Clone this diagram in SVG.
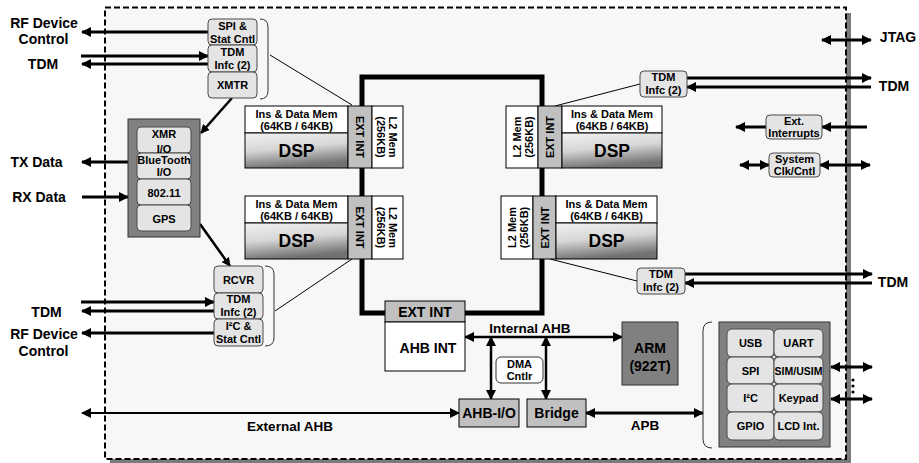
<svg xmlns="http://www.w3.org/2000/svg" width="919" height="463" viewBox="0 0 919 463">
<defs>
<style>
text{font-family:"Liberation Sans",Arial,sans-serif;font-weight:bold;fill:#000;text-anchor:middle}
.t14{font-size:14px}
.t13{font-size:13.5px}
.t11{font-size:11px}
.t10{font-size:11px}
.t17{font-size:17.5px}
.rv{dominant-baseline:central}
.rb{fill:#e4e4e4;stroke:#4a4a4a;stroke-width:1}
.w{fill:#fff;stroke:#000;stroke-width:1}
.g{fill:#c0c0c0;stroke:#000;stroke-width:1}
.dk{fill:#808080;stroke:#333;stroke-width:1}
.thick{stroke:#000;stroke-width:3;fill:none}
.med{stroke:#000;stroke-width:2.5;fill:none}
.ext{stroke:#000;stroke-width:2;fill:none}
.thin{stroke:#000;stroke-width:1;fill:none}
.bus{stroke:#000;stroke-width:5;fill:none}
.brk{stroke:#333;stroke-width:1;fill:none}
</style>
<marker id="ah" viewBox="0 0 10 10" refX="9" refY="5" markerWidth="10" markerHeight="10" markerUnits="userSpaceOnUse" orient="auto-start-reverse"><path d="M0,0L10,5L0,10z" fill="#000"/></marker>
<marker id="ahs" viewBox="0 0 10 10" refX="9" refY="5" markerWidth="9" markerHeight="9" markerUnits="userSpaceOnUse" orient="auto-start-reverse"><path d="M0,0L10,5L0,10z" fill="#000"/></marker>
<linearGradient id="dspg" x1="0" y1="0" x2="0.25" y2="1">
<stop offset="0" stop-color="#f2f2f2"/>
<stop offset="0.5" stop-color="#d6d6d6"/>
<stop offset="1" stop-color="#727272"/>
</linearGradient>
</defs>

<rect x="0" y="0" width="919" height="463" fill="#fff"/>
<g id="chip">
<rect x="110" y="13" width="741" height="450" fill="#7a7a7a"/>
<rect x="105" y="7.5" width="741" height="451.5" fill="#f7f7f7" stroke="#000" stroke-width="2" stroke-dasharray="6 3"/>
</g>

<g id="labels">
<text class="t14" x="44" y="28">RF Device</text>
<text class="t14" x="43.5" y="44">Control</text>
<text class="t14" x="43" y="69">TDM</text>
<text class="t14" x="36.5" y="167">TX Data</text>
<text class="t14" x="39" y="202">RX Data</text>
<text class="t14" x="46.5" y="317">TDM</text>
<text class="t14" x="44" y="339">RF Device</text>
<text class="t14" x="43.5" y="356">Control</text>
<text class="t14" x="898" y="42">JTAG</text>
<text class="t14" x="894" y="91">TDM</text>
<text class="t14" x="893" y="287">TDM</text>
<text class="t13" x="290" y="431">External AHB</text>
<text class="t13" x="530" y="333">Internal AHB</text>
<text class="t13" x="645" y="430">APB</text>
</g>

<g id="connectors">
<path class="thick" d="M208,32H82" marker-end="url(#ah)"/>
<path class="thick" d="M81,56H208" marker-end="url(#ah)"/>
<path class="thick" d="M208,64H82" marker-end="url(#ah)"/>
<path class="thick" d="M128,162H82" marker-end="url(#ah)"/>
<path class="thick" d="M82,197H128" marker-end="url(#ah)"/>
<path class="med" d="M232,98L201,133" stroke-width="1.8" marker-end="url(#ahs)"/>
<path class="med" d="M200,224L230,266" stroke-width="1.8" marker-end="url(#ahs)"/>
<path class="thick" d="M81,302H214" marker-end="url(#ah)"/>
<path class="thick" d="M214,311H82" marker-end="url(#ah)"/>
<path class="thick" d="M214,333H82" marker-end="url(#ah)"/>
<path class="thin" d="M270,55L352,105"/>
<path class="thin" d="M275,311L352,259"/>
<path class="thin" d="M640,84L555,106"/>
<path class="thin" d="M637,281L550,259"/>
<path class="thick" d="M687,78H871" marker-end="url(#ah)"/>
<path class="thick" d="M871,87H687" marker-end="url(#ah)"/>
<path class="thick" d="M685,274H872" marker-end="url(#ah)"/>
<path class="thick" d="M872,283H685" marker-end="url(#ah)"/>
<path class="thick" d="M822,40H871" marker-start="url(#ah)" marker-end="url(#ah)"/>
<path class="thick" d="M867,127H822" marker-end="url(#ah)"/>
<path class="thick" d="M766,127H736" marker-end="url(#ah)"/>
<path class="thick" d="M740,165H769" marker-start="url(#ah)" marker-end="url(#ah)"/>
<path class="thick" d="M820,165H870" marker-start="url(#ah)" marker-end="url(#ah)"/>
<path class="thick" d="M831,367H872" marker-start="url(#ah)" marker-end="url(#ah)"/>
<path class="thick" d="M831,399H872" marker-start="url(#ah)" marker-end="url(#ah)"/>
<path class="thick" d="M586,413H703" marker-start="url(#ah)" marker-end="url(#ah)"/>
<path class="ext" d="M82,413H459" marker-start="url(#ah)" marker-end="url(#ah)"/>
<path class="med" d="M465,337H622" marker-start="url(#ah)" marker-end="url(#ah)"/>
<path class="med" d="M491,337V399" marker-start="url(#ah)" marker-end="url(#ah)"/>
<path class="med" d="M546,337V399" marker-start="url(#ah)" marker-end="url(#ah)"/>
<path class="bus" d="M362,106V77H542V106"/>
<path class="bus" d="M362,168V196"/>
<path class="bus" d="M542,168V196"/>
<path class="bus" d="M362,259V313H385"/>
<path class="bus" d="M465,313H542V259"/>
<circle cx="853" cy="380" r="1.6" fill="#000"/>
<circle cx="853" cy="386" r="1.6" fill="#000"/>
<circle cx="853" cy="392" r="1.6" fill="#000"/>
</g>

<g id="tx-group">
<rect class="rb" x="208" y="19" width="49" height="26" rx="4"/>
<rect class="rb" x="208" y="45" width="49" height="27" rx="4"/>
<rect class="rb" x="208" y="72" width="49" height="26" rx="4"/>
<text class="t10" x="232.5" y="30">SPI &amp;</text>
<text class="t10" x="232.5" y="43">Stat Cntl</text>
<text class="t10" x="232.5" y="56">TDM</text>
<text class="t10" x="232.5" y="68.5">Infc (2)</text>
<text class="t10" x="232.5" y="89">XMTR</text>
<path class="brk" d="M260,19Q268,19 268,27V91Q268,99 260,99"/>
</g>

<g id="radio-block">
<rect class="dk" x="128" y="119" width="72" height="118"/>
<rect class="rb" x="137" y="127" width="54" height="26" rx="4"/>
<rect class="rb" x="137" y="153" width="54" height="26" rx="4"/>
<rect class="rb" x="137" y="179" width="54" height="26" rx="4"/>
<rect class="rb" x="137" y="205" width="54" height="26" rx="4"/>
<text class="t10" x="164" y="138">XMR</text>
<text class="t10" x="164" y="153">I/O</text>
<text class="t10" x="164" y="164">BlueTooth</text>
<text class="t10" x="164" y="176">I/O</text>
<text class="t10" x="164" y="197">802.11</text>
<text class="t10" x="164" y="223">GPS</text>
</g>

<g id="rx-group">
<rect class="rb" x="214" y="266" width="49" height="27" rx="4"/>
<rect class="rb" x="214" y="293" width="49" height="26" rx="4"/>
<rect class="rb" x="214" y="319" width="49" height="27" rx="4"/>
<text class="t10" x="238.5" y="284">RCVR</text>
<text class="t10" x="238.5" y="303">TDM</text>
<text class="t10" x="238.5" y="316">Infc (2)</text>
<text class="t10" x="238.5" y="330">I²C  &amp;</text>
<text class="t10" x="238.5" y="343">Stat Cntl</text>
<path class="brk" d="M265,266Q274,266 274,274V338Q274,346 265,346"/>
</g>

<g id="dsp1">
<rect class="w" x="245" y="106" width="103" height="27"/>
<rect x="245" y="133" width="103" height="35" fill="url(#dspg)" stroke="#000"/>
<rect class="g" x="348" y="106" width="24" height="62"/>
<rect class="w" x="372" y="106" width="31" height="62"/>
<text class="t11" x="296.5" y="118">Ins &amp; Data Mem</text>
<text class="t11" x="296.5" y="130">(64KB / 64KB)</text>
<text class="t17" x="296.5" y="157">DSP</text>
<text class="t11 rv" transform="translate(360,137) rotate(90)">EXT INT</text>
<text class="t11 rv" transform="translate(387,137) rotate(90)"><tspan x="0" y="-6">L2 Mem</tspan><tspan x="0" y="6">(256KB)</tspan></text>
</g>

<g id="dsp2">
<rect class="w" x="245" y="196" width="103" height="27"/>
<rect x="245" y="223" width="103" height="36" fill="url(#dspg)" stroke="#000"/>
<rect class="g" x="348" y="196" width="24" height="63"/>
<rect class="w" x="372" y="196" width="31" height="63"/>
<text class="t11" x="296.5" y="208">Ins &amp; Data Mem</text>
<text class="t11" x="296.5" y="220">(64KB / 64KB)</text>
<text class="t17" x="296.5" y="247">DSP</text>
<text class="t11 rv" transform="translate(360,227.5) rotate(90)">EXT INT</text>
<text class="t11 rv" transform="translate(387,227.5) rotate(90)"><tspan x="0" y="-6">L2 Mem</tspan><tspan x="0" y="6">(256KB)</tspan></text>
</g>

<g id="dsp3">
<rect class="w" x="506" y="106" width="32" height="62"/>
<rect class="g" x="538" y="106" width="24" height="62"/>
<rect class="w" x="562" y="106" width="100" height="27"/>
<rect x="562" y="133" width="100" height="35" fill="url(#dspg)" stroke="#000"/>
<text class="t11" x="612" y="118">Ins &amp; Data Mem</text>
<text class="t11" x="612" y="130">(64KB / 64KB)</text>
<text class="t17" x="612" y="157">DSP</text>
<text class="t11 rv" transform="translate(550,137) rotate(-90)">EXT INT</text>
<text class="t11 rv" transform="translate(522.5,137) rotate(-90)"><tspan x="0" y="-6">L2 Mem</tspan><tspan x="0" y="6">(256KB)</tspan></text>
</g>

<g id="dsp4">
<rect class="w" x="501" y="196" width="32" height="63"/>
<rect class="g" x="533" y="196" width="23" height="63"/>
<rect class="w" x="556" y="196" width="101" height="27"/>
<rect x="556" y="223" width="101" height="36" fill="url(#dspg)" stroke="#000"/>
<text class="t11" x="606.5" y="208">Ins &amp; Data Mem</text>
<text class="t11" x="606.5" y="220">(64KB / 64KB)</text>
<text class="t17" x="606.5" y="247">DSP</text>
<text class="t11 rv" transform="translate(544.5,227.5) rotate(-90)">EXT INT</text>
<text class="t11 rv" transform="translate(517.5,227.5) rotate(-90)"><tspan x="0" y="-6">L2 Mem</tspan><tspan x="0" y="6">(256KB)</tspan></text>
</g>

<g id="tdm-right-top">
<rect class="rb" x="640" y="71" width="47" height="26" rx="4"/>
<text class="t10" x="663.5" y="81">TDM</text>
<text class="t10" x="663.5" y="93.5">Infc (2)</text>
</g>
<g id="tdm-right-bottom">
<rect class="rb" x="637" y="268" width="48" height="26" rx="4"/>
<text class="t10" x="661" y="278">TDM</text>
<text class="t10" x="661" y="290.5">Infc (2)</text>
</g>
<g id="ext-interrupts">
<rect class="rb" x="766" y="115" width="56" height="24" rx="4"/>
<text class="t10" x="794" y="125">Ext.</text>
<text class="t10" x="794" y="137">Interrupts</text>
</g>
<g id="sys-clk">
<rect class="rb" x="769" y="153" width="51" height="24" rx="4"/>
<text class="t10" x="794.5" y="163">System</text>
<text class="t10" x="794.5" y="175">Clk/Cntl</text>
</g>

<g id="ahb-int">
<rect class="g" x="385" y="301" width="80" height="21"/>
<rect class="w" x="385" y="322" width="80" height="49"/>
<text class="t14" x="425" y="317">EXT INT</text>
<text class="t14" x="428" y="353">AHB INT</text>
</g>
<g id="dma">
<rect x="496" y="357" width="47" height="26" rx="5" fill="#fff" stroke="#333"/>
<text class="t10" x="519.5" y="368">DMA</text>
<text class="t10" x="519.5" y="380">Cntlr</text>
</g>
<g id="ahb-io">
<rect class="g" x="459" y="399" width="60" height="28"/>
<text class="t14" x="489" y="418">AHB-I/O</text>
</g>
<g id="bridge">
<rect class="g" x="527" y="399" width="59" height="28"/>
<text class="t14" x="556.5" y="418">Bridge</text>
</g>
<g id="arm">
<rect class="dk" x="622" y="322" width="56" height="63"/>
<text class="t14" x="650" y="353">ARM</text>
<text class="t14" x="650" y="371">(922T)</text>
</g>

<g id="peripherals">
<path class="brk" d="M712,322Q703,322 703,331V439Q703,448 712,448"/>
<rect class="dk" x="719" y="322" width="111" height="125"/>
<rect class="rb" x="727" y="329" width="47" height="28" rx="5"/>
<rect class="rb" x="774" y="329" width="49" height="28" rx="5"/>
<rect class="rb" x="727" y="357" width="47" height="27" rx="5"/>
<rect class="rb" x="774" y="357" width="49" height="27" rx="5"/>
<rect class="rb" x="727" y="384" width="47" height="28" rx="5"/>
<rect class="rb" x="774" y="384" width="49" height="28" rx="5"/>
<rect class="rb" x="727" y="412" width="47" height="28" rx="5"/>
<rect class="rb" x="774" y="412" width="49" height="28" rx="5"/>
<circle cx="774" cy="357" r="2" fill="#e4e4e4" stroke="#4a4a4a"/>
<circle cx="774" cy="384" r="2" fill="#e4e4e4" stroke="#4a4a4a"/>
<circle cx="774" cy="412" r="2" fill="#e4e4e4" stroke="#4a4a4a"/>
<text class="t11" x="750.5" y="347">USB</text>
<text class="t11" x="798.5" y="347">UART</text>
<text class="t11" x="750.5" y="374.5">SPI</text>
<text class="t11" x="798.5" y="374.5" style="font-size:10.5px">SIM/USIM</text>
<text class="t11" x="750.5" y="402">I²C</text>
<text class="t11" x="798.5" y="402">Keypad</text>
<text class="t11" x="750.5" y="430">GPIO</text>
<text class="t11" x="798.5" y="430">LCD Int.</text>
</g>
</svg>
